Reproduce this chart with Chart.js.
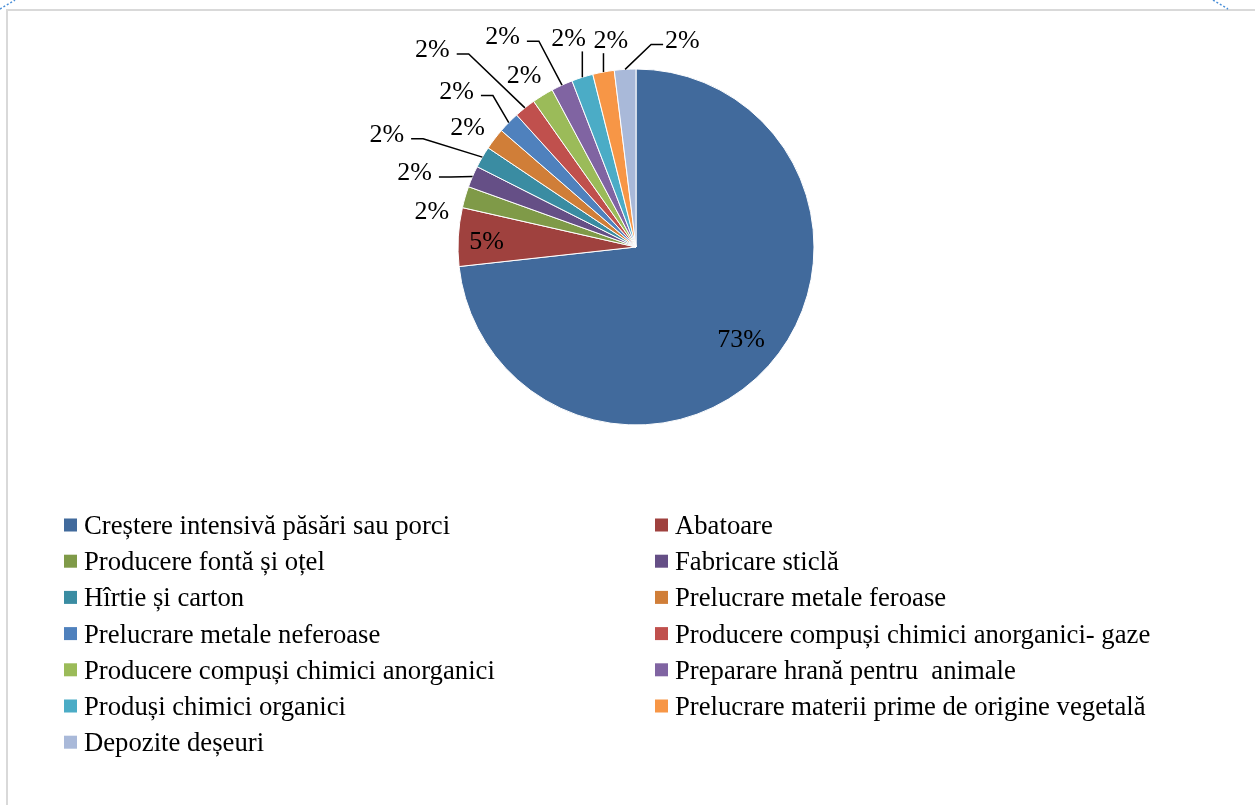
<!DOCTYPE html>
<html>
<head>
<meta charset="utf-8">
<script src="https://cdn.jsdelivr.net/npm/chart.js@4.4.0/dist/chart.umd.min.js"></script>
<style>
html,body{margin:0;padding:0;background:#fff;}
#wrap{position:relative;width:1255px;height:805px;}
</style>
</head>
<body>
<div id="wrap"><canvas id="c" width="1255" height="805"></canvas></div>
<script>
const categories = [
  'Creștere intensivă păsări sau porci',
  'Abatoare',
  'Producere fontă și oțel',
  'Fabricare sticlă',
  'Hîrtie și carton',
  'Prelucrare metale feroase',
  'Prelucrare metale neferoase',
  'Producere compuși chimici anorganici- gaze',
  'Producere compuși chimici anorganici',
  'Preparare hrană pentru  animale',
  'Produși chimici organici',
  'Prelucrare materii prime de origine vegetală',
  'Depozite deșeuri'
];
const values = [73.25, 5.3, 1.95, 1.95, 1.95, 1.95, 1.95, 1.95, 1.95, 1.95, 1.95, 1.95, 1.95];
const colors = ['#416A9C', '#9F413E', '#7F9A48', '#654F86', '#3A8CA2', '#D07E38',
                '#4F81BD', '#C0504D', '#9BBB59', '#8064A2', '#4BACC6', '#F79646', '#A9B9D9'];

// label placement (style): angular shift in degrees from slice middle, distance as multiple of radius, leader line
const labelShift = [-1, -0.5, -6, -4.5, -5.8, -1.6, -3.2, -7.1, -1.3, -7.7, -0.3, 3.6, 16.1];
const labelDist = [0.78, 0.84, 1.166, 1.314, 1.539, 1.166, 1.339, 1.598, 1.158, 1.404, 1.237, 1.176, 1.197];
const labelLeader = [false, false, false, true, true, false, true, true, false, true, true, true, true];

const LABEL_FONT = '26px "Liberation Serif", "Times New Roman", serif';
const LEGEND_FONT = '26.7px "Liberation Serif", "Times New Roman", serif';

const framePlugin = {
  id: 'frame',
  beforeDraw(chart) {
    const ctx = chart.ctx;
    ctx.save();
    ctx.fillStyle = '#fff';
    ctx.fillRect(0, 0, chart.width, chart.height);
    ctx.fillStyle = '#D9D9D9';
    ctx.fillRect(6, 9, 2, chart.height - 9);
    ctx.fillRect(6, 9, chart.width - 6, 2);
    ctx.strokeStyle = '#4A8FD8';
    ctx.lineWidth = 1.5;
    ctx.setLineDash([2, 2]);
    ctx.beginPath();
    ctx.moveTo(0, 9); ctx.lineTo(15, 0);
    ctx.moveTo(1213, 0); ctx.lineTo(1228, 9);
    ctx.stroke();
    ctx.restore();
  }
};

const labelPlugin = {
  id: 'pieLabels',
  afterDatasetsDraw(chart) {
    const ctx = chart.ctx;
    const meta = chart.getDatasetMeta(0);
    const data = chart.data.datasets[0].data;
    const total = data.reduce((a, b) => a + b, 0);
    ctx.save();
    ctx.font = LABEL_FONT;
    ctx.fillStyle = '#000';
    ctx.strokeStyle = '#000';
    ctx.lineWidth = 1.5;
    ctx.textAlign = 'center';
    ctx.textBaseline = 'alphabetic';
    meta.data.forEach((arc, i) => {
      const p = arc.getProps(['x', 'y', 'startAngle', 'endAngle', 'outerRadius'], true);
      const mid = (p.startAngle + p.endAngle) / 2;
      const a = mid + labelShift[i] * Math.PI / 180;
      const r = p.outerRadius * labelDist[i];
      const px = p.x + Math.cos(a) * r;
      const py = p.y + Math.sin(a) * r;
      const txt = Math.round(data[i] / total * 100) + '%';
      ctx.fillText(txt, px, py + 8.8);
      if (labelLeader[i]) {
        const w = ctx.measureText(txt).width;
        const ex = p.x + Math.cos(mid) * p.outerRadius;
        const ey = p.y + Math.sin(mid) * p.outerRadius;
        const left = px - w / 2 - 2, right = px + w / 2 + 7;
        const bottom = py + 14, midY = py + 5.5;
        ctx.beginPath();
        if (ex >= left && ex <= right) {
          ctx.moveTo(ex, bottom);
          ctx.lineTo(ex, ey);
        } else if (ex > right) {
          ctx.moveTo(right, midY);
          ctx.lineTo(right + 12, midY);
          ctx.lineTo(ex, ey);
        } else {
          ctx.moveTo(left, midY);
          ctx.lineTo(left - 12, midY);
          ctx.lineTo(ex, ey);
        }
        ctx.stroke();
      }
    });
    ctx.restore();
  }
};

const legendPlugin = {
  id: 'twoColLegend',
  afterDraw(chart) {
    const ctx = chart.ctx;
    const labels = chart.data.labels;
    const bg = chart.data.datasets[0].backgroundColor;
    const colX = [64, 655];
    const rowY0 = 525, rowStep = 36.2, sq = 13;
    ctx.save();
    ctx.font = LEGEND_FONT;
    ctx.textAlign = 'left';
    ctx.textBaseline = 'alphabetic';
    labels.forEach((lab, i) => {
      const col = i % 2, row = Math.floor(i / 2);
      const cy = rowY0 + row * rowStep;
      ctx.fillStyle = bg[i];
      ctx.fillRect(colX[col], cy - sq / 2, sq, sq);
      ctx.fillStyle = '#000';
      ctx.fillText(lab, colX[col] + 20, cy + 9);
    });
    ctx.restore();
  }
};

new Chart(document.getElementById('c'), {
  type: 'pie',
  data: {
    labels: categories,
    datasets: [{
      data: values,
      backgroundColor: colors,
      borderColor: '#ffffff',
      borderWidth: 1
    }]
  },
  options: {
    responsive: false,
    animation: false,
    radius: 178,
    layout: { padding: { top: 69, bottom: 380, left: 17, right: 0 } },
    plugins: {
      legend: { display: false },
      tooltip: { enabled: false }
    }
  },
  plugins: [framePlugin, labelPlugin, legendPlugin]
});
</script>
</body>
</html>
